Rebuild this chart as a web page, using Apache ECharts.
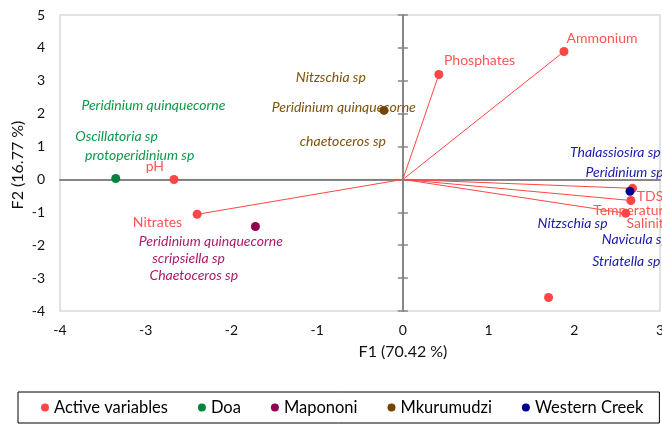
<!DOCTYPE html>
<html>
<head>
<meta charset="utf-8">
<script src="https://cdn.jsdelivr.net/npm/echarts@6/dist/echarts.min.js"></script>
<style>html,body{margin:0;padding:0;background:#fff;}#c{width:662px;height:425px;}</style>
</head>
<body>
<div id="c"></div>
<script>
// ---- data ----
const activeNames = ['Ammonium', 'Phosphates', 'pH', 'Nitrates', 'TDS', 'Temperature', 'Salinity', ''];
const activeF1 = [1.88, 0.42, -2.67, -2.40, 2.68, 2.66, 2.60, 1.70];
const activeF2 = [3.89, 3.19, 0.00, -1.06, -0.27, -0.64, -1.03, -3.59];

const groupNames = ['Doa', 'Mapononi', 'Mkurumudzi', 'Western Creek'];
const groupF1 = [-3.35, -1.72, -0.22, 2.65];
const groupF2 = [0.03, -1.43, 2.10, -0.36];

const doaSpecies = ['Peridinium quinquecorne', 'Oscillatoria sp', 'protoperidinium sp'];
const mapononiSpecies = ['Peridinium quinquecorne', 'scripsiella sp', 'Chaetoceros sp'];
const mkurumudziSpecies = ['Nitzschia sp', 'Peridinium quinquecorne', 'chaetoceros sp'];
const westernSpecies = ['Thalassiosira sp', 'Peridinium sp', 'Nitzschia sp', 'Navicula sp', 'Striatella sp'];

const xTicks = [-4, -3, -2, -1, 0, 1, 2, 3];
const yTicks = [-4, -3, -2, -1, 0, 1, 2, 3, 4, 5];
const xTitle = 'F1 (70.42 %)';
const yTitle = 'F2 (16.77 %)';

// ---- layout / style (text anchors in data units) ----
const activeLabelAnchor = {
  'Ammonium': [1.91, 4.29, 'left'],
  'Phosphates': [0.48, 3.62, 'left'],
  'pH': [-3.0, 0.40, 'left'],
  'Nitrates': [-3.15, -1.31, 'left'],
  'TDS': [2.73, -0.52, 'left'],
  'Temperature': [2.22, -0.94, 'left'],
  'Salinity': [2.61, -1.34, 'left']
};
const speciesAnchors = {
  'Doa': [[-2.91, 2.25, 'center'], [-3.34, 1.31, 'center'], [-3.07, 0.73, 'center']],
  'Mapononi': [[-2.24, -1.88, 'center'], [-2.50, -2.40, 'center'], [-2.44, -2.92, 'center']],
  'Mkurumudzi': [[-0.84, 3.10, 'center'], [-0.69, 2.19, 'center'], [-0.70, 1.16, 'center']],
  'Western Creek': [[1.95, 0.82, 'left'], [2.13, 0.21, 'left'], [1.98, -1.34, 'center'], [2.32, -1.82, 'left'], [2.21, -2.49, 'left']]
};
const groupSpecies = { 'Doa': doaSpecies, 'Mapononi': mapononiSpecies, 'Mkurumudzi': mkurumudziSpecies, 'Western Creek': westernSpecies };
const pointColors = { 'Active variables': '#ff4646', 'Doa': '#00843c', 'Mapononi': '#930050', 'Mkurumudzi': '#734500', 'Western Creek': '#000090' };
const textColors = { 'Active variables': '#ff5555', 'Doa': '#10984a', 'Mapononi': '#ad1a6a', 'Mkurumudzi': '#80520c', 'Western Creek': '#1a1aaa' };
const FONT = 'Lato, "Open Sans", sans-serif';

const series = [];
activeNames.forEach((n, i) => {
  if (!n) return;
  series.push({
    type: 'line', name: 'vec_' + n, silent: true, symbol: 'none', z: 2,
    data: [[0, 0], [activeF1[i], activeF2[i]]],
    lineStyle: { color: '#ff4646', width: 1, opacity: 1 }
  });
});
series.push({
  type: 'scatter', name: 'Active variables', symbolSize: 9, z: 4,
  itemStyle: { color: pointColors['Active variables'], opacity: 1 },
  data: activeF1.map((x, i) => [x, activeF2[i]])
});
groupNames.forEach((g, i) => {
  series.push({
    type: 'scatter', name: g, symbolSize: 9, z: 5,
    itemStyle: { color: pointColors[g], opacity: 1 },
    data: [[groupF1[i], groupF2[i]]]
  });
});
const textData = [];
activeNames.forEach(n => {
  if (!n) return;
  const a = activeLabelAnchor[n];
  textData.push({ value: [a[0], a[1]], name: n, label: { align: a[2], color: textColors['Active variables'], fontStyle: 'normal' } });
});
groupNames.forEach(g => {
  groupSpecies[g].forEach((s, k) => {
    const a = speciesAnchors[g][k];
    textData.push({ value: [a[0], a[1]], name: s, label: { align: a[2], color: textColors[g], fontStyle: 'italic' } });
  });
});
series.push({
  type: 'scatter', name: 'labels', silent: true, symbolSize: 1, z: 3,
  itemStyle: { color: 'transparent', opacity: 1 },
  label: { show: true, position: 'inside', formatter: p => p.name, fontFamily: FONT, fontSize: 14, verticalAlign: 'middle', opacity: 1 },
  data: textData
});

const chart = echarts.init(document.getElementById('c'), null, { renderer: 'canvas' });
chart.setOption({
  animation: false,
  backgroundColor: '#fff',
  grid: { left: 60, right: 2, top: 15, bottom: 114, show: true, borderColor: '#d9d9d9', borderWidth: 1.5, containLabel: false, outerBoundsMode: 'none' },
  xAxis: [
    { type: 'value', min: xTicks[0], max: xTicks[xTicks.length - 1], interval: 1, position: 'bottom',
      axisLine: { show: false, onZero: false }, axisTick: { show: false }, splitLine: { show: false },
      axisLabel: { margin: 12, fontFamily: FONT, fontSize: 14, color: '#111' } },
    { type: 'value', min: xTicks[0], max: xTicks[xTicks.length - 1], interval: 1,
      axisLine: { show: true, onZero: true, onZeroAxisIndex: 0, lineStyle: { color: '#868686', width: 2 } },
      axisTick: { show: false }, axisLabel: { show: false }, splitLine: { show: false } }
  ],
  yAxis: [
    { type: 'value', min: yTicks[0], max: yTicks[yTicks.length - 1], interval: 1, position: 'left',
      axisLine: { show: false, onZero: false }, axisTick: { show: false }, splitLine: { show: false },
      axisLabel: { margin: 15, fontFamily: FONT, fontSize: 14, color: '#111' } },
    { type: 'value', min: yTicks[0], max: yTicks[yTicks.length - 1], interval: 1, position: 'left',
      axisLine: { show: true, onZero: true, onZeroAxisIndex: 0, lineStyle: { color: '#868686', width: 2 } },
      axisTick: { show: true, inside: false, length: 5, lineStyle: { color: '#868686', width: 1.5 } },
      axisLabel: { show: false }, splitLine: { show: false } },
    { type: 'value', min: yTicks[0], max: yTicks[yTicks.length - 1], interval: 1, position: 'left',
      axisLine: { show: false, onZero: true, onZeroAxisIndex: 0 },
      axisTick: { show: true, inside: true, length: 5, lineStyle: { color: '#868686', width: 1.5 } },
      axisLabel: { show: false }, splitLine: { show: false } }
  ],
  legend: {
    data: ['Active variables', 'Doa', 'Mapononi', 'Mkurumudzi', 'Western Creek'].map(n => ({ name: n, icon: 'circle' })),
    left: 18, bottom: 2, orient: 'horizontal',
    itemWidth: 8, itemHeight: 8, itemGap: 30,
    padding: [7, 16, 7, 23],
    borderColor: '#000', borderWidth: 1,
    textStyle: { fontFamily: FONT, fontSize: 16.5, color: '#000' }
  },
  graphic: [
    { type: 'text', x: 403, y: 352, style: { text: xTitle, font: '16px ' + FONT, fill: '#111', align: 'center', verticalAlign: 'middle' } },
    { type: 'text', rotation: Math.PI / 2, x: 18, y: 165, style: { text: yTitle, font: '16px ' + FONT, fill: '#111', align: 'center', verticalAlign: 'middle' } }
  ],
  series: series
});
</script>
</body>
</html>
